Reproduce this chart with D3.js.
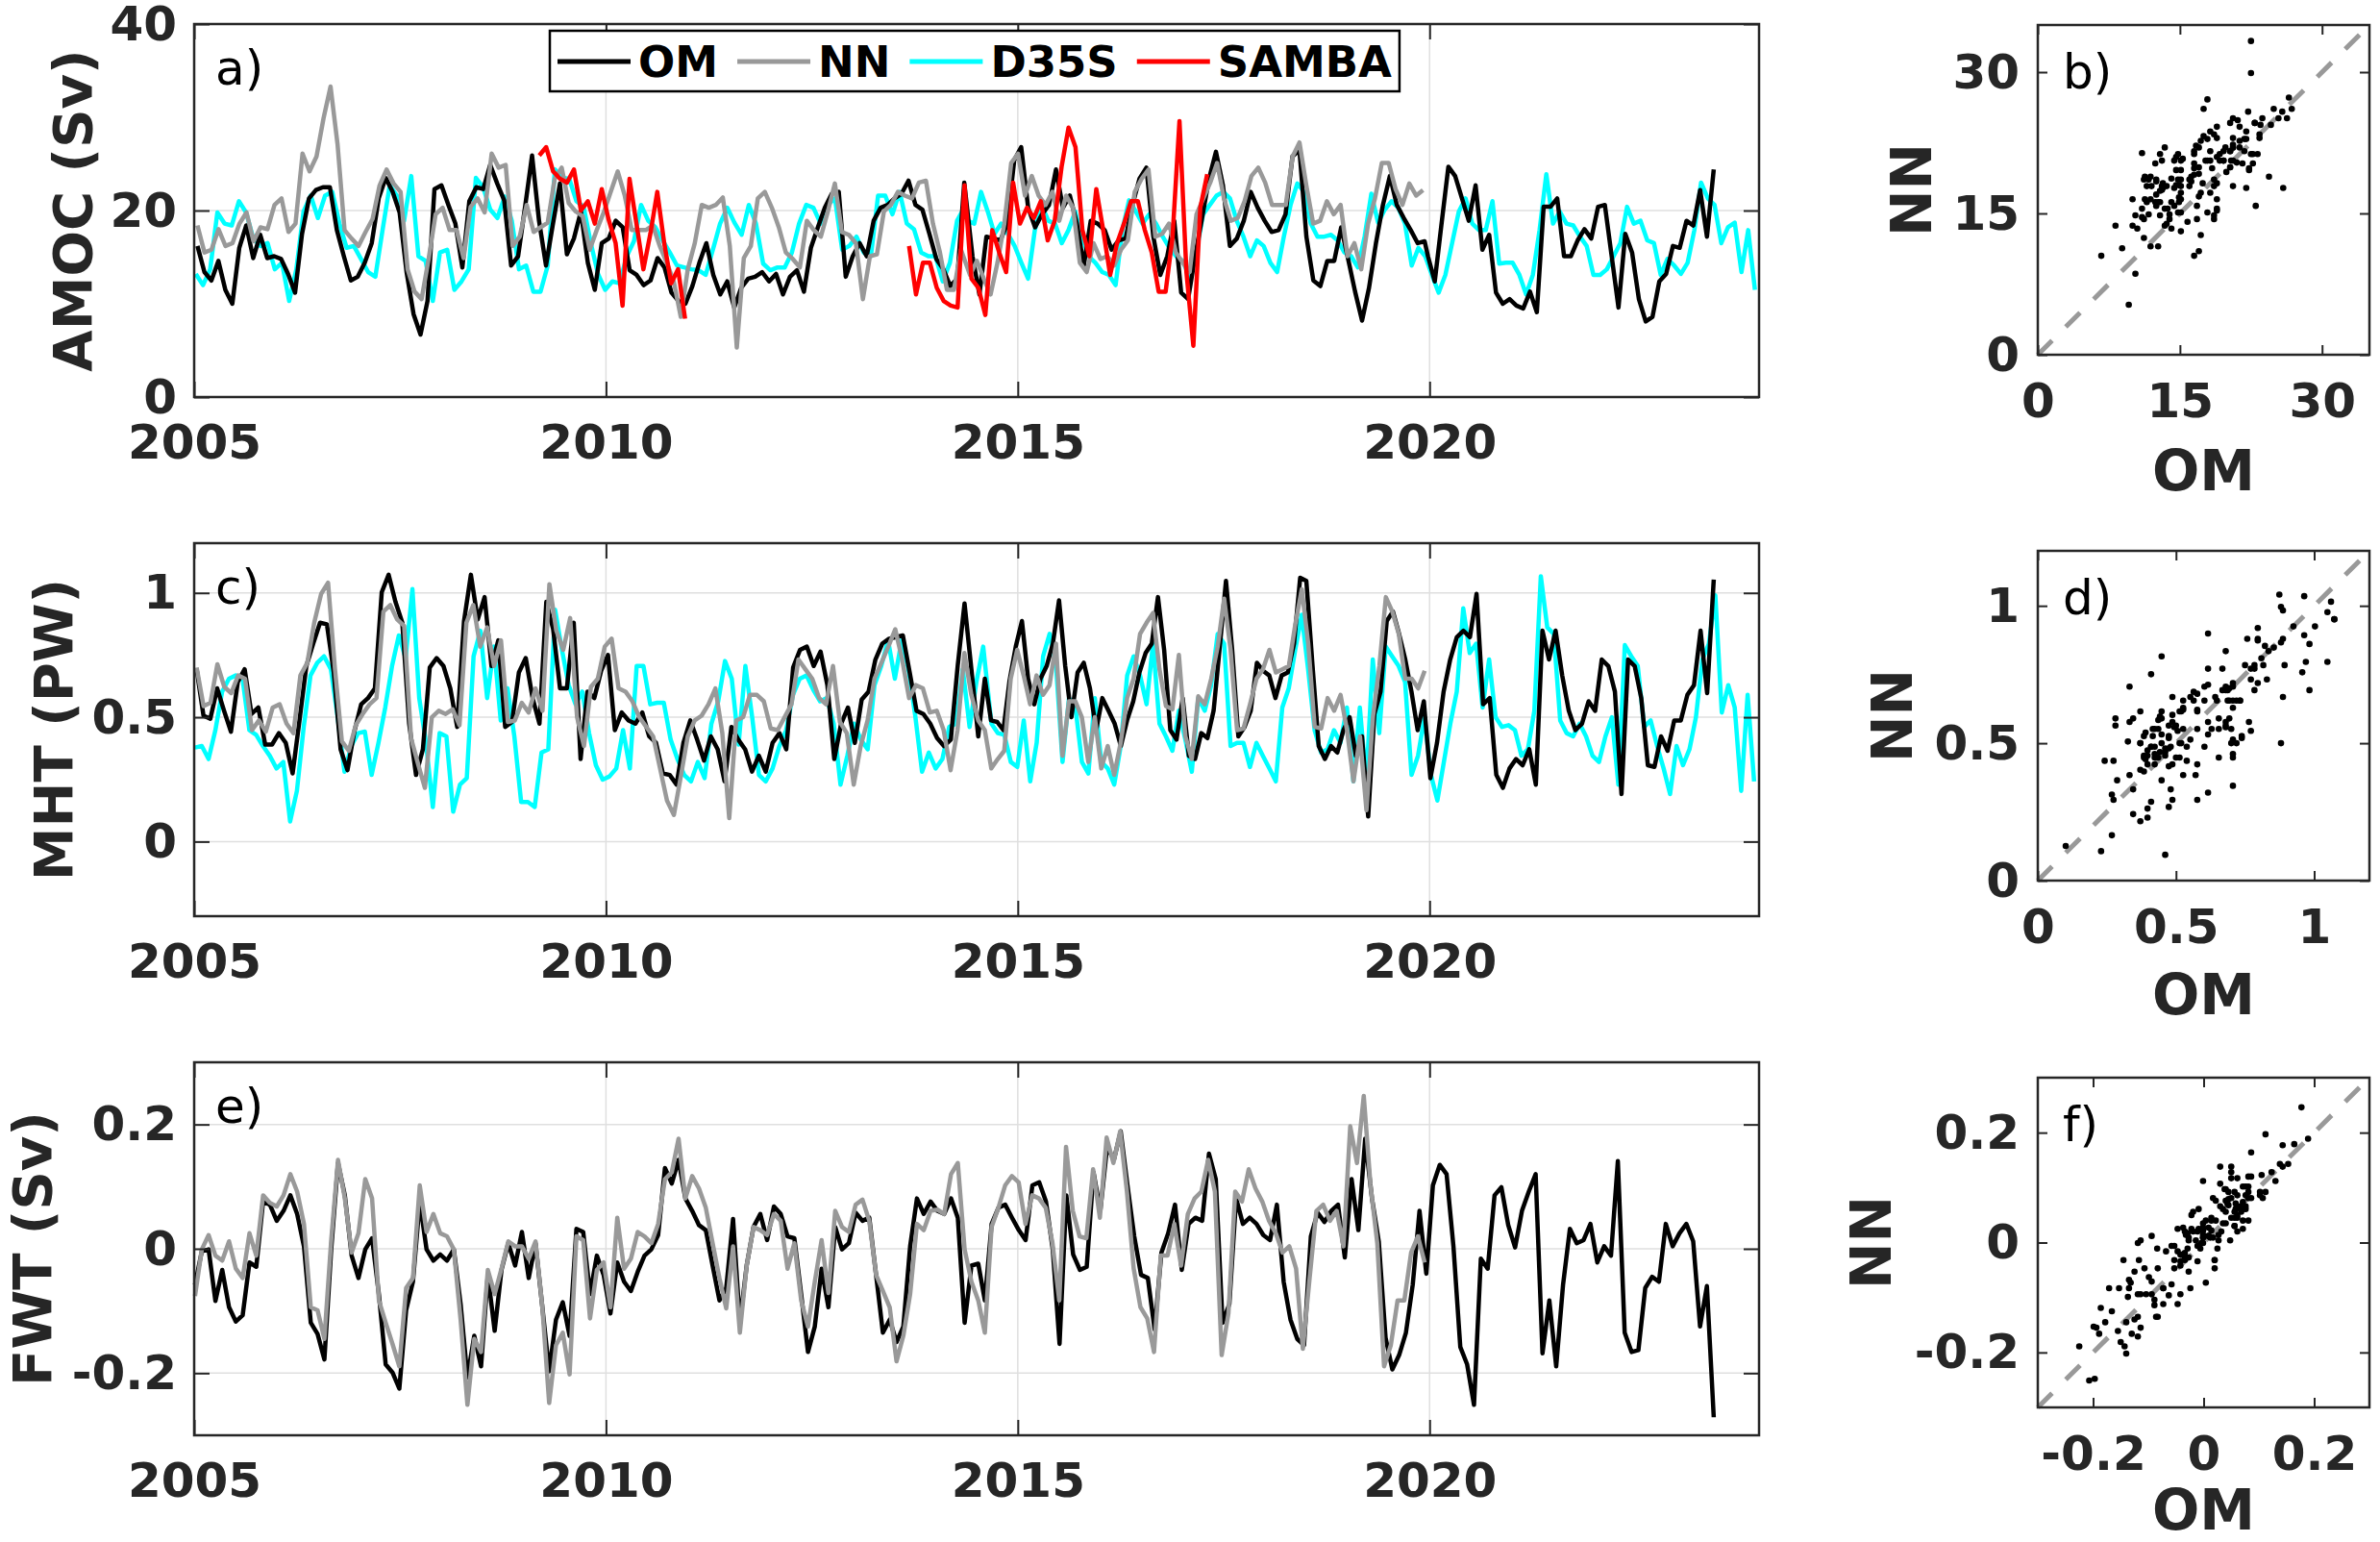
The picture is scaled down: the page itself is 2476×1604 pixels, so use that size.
<!DOCTYPE html>
<html>
<head>
<meta charset="utf-8">
<script src="https://cdn.jsdelivr.net/npm/d3@7"></script>
<style>
  body { margin: 0; background: #fff; }
</style>
</head>
<body>
<div id="chart"></div>
<script>
// Monthly transports: AMOC (Sv), MHT (PW), FWT (Sv)

// ---- a) AMOC ----
const OM_A = [
  16.2,13.4,12.5,14.6,11.5,10.0,16.0,18.4,14.9,17.4,14.9,15.1,14.8,13.2,11.2,17.5,21.3,22.2,22.5,22.5,
  17.9,15.1,12.5,12.9,14.4,16.5,21.3,23.5,22.0,19.8,13.4,8.9,6.7,10.3,22.3,22.7,20.6,18.6,13.9,21.0,
  22.5,22.3,24.9,22.9,21.1,14.1,15.1,20.4,25.9,18.9,14.1,18.6,22.9,15.3,17.0,19.9,14.4,11.5,16.5,17.0,
  18.9,18.2,13.6,13.1,12.0,12.5,14.9,13.9,11.2,10.3,10.0,11.9,14.4,16.5,13.1,11.0,12.4,9.6,11.7,12.7,
  12.9,13.4,12.4,13.2,11.0,12.9,13.6,11.3,16.0,18.2,20.3,21.8,22.0,12.9,15.1,16.5,15.1,18.9,20.3,20.6,
  21.3,21.8,23.2,20.6,20.1,17.5,14.8,13.7,11.9,12.7,23.0,
  15.1,11.0,17.2,17.0,16.8,18.6,25.4,26.8,20.3,18.2,19.6,20.6,24.4,20.3,21.6,18.6,14.1,18.9,18.6,17.9,
  15.8,16.8,17.0,20.6,23.4,24.6,17.2,13.1,15.1,18.9,11.2,10.5,15.1,19.2,23.4,26.3,22.7,16.2,17.0,18.9,
  22.0,20.3,18.9,17.7,17.9,19.6,25.8,26.5,17.2,12.5,11.9,14.6,14.6,18.2,14.8,11.3,8.2,11.7,16.5,20.6,
  23.7,20.6,19.2,17.9,16.5,16.7,15.1,12.4,18.6,24.7,23.7,21.3,18.9,22.7,15.8,17.4,11.2,10.0,10.5,9.8,
  9.5,11.3,9.1,20.4,20.4,21.3,15.1,15.1,16.8,18.0,17.0,20.4,20.6,15.1,9.6,17.5,15.5,10.5,8.1,8.6,
  12.4,13.2,16.2,16.0,18.9,18.4,22.2,17.2,24.4
];
const NN_A = [
  18.4,15.5,15.8,18.0,16.2,16.5,18.6,19.8,16.7,18.2,18.0,20.6,21.3,17.7,18.6,26.1,24.2,25.8,29.9,33.3,
  27.1,17.9,17.0,16.2,17.7,19.1,22.7,24.4,22.9,22.0,13.7,11.3,10.5,14.8,19.6,20.3,17.9,17.9,14.9,20.4,
  21.3,19.8,26.1,24.6,24.9,16.2,17.2,20.6,17.7,18.2,18.7,23.4,24.6,20.8,19.9,19.4,15.8,17.9,19.8,22.0,
  24.2,21.6,17.9,17.9,17.9,18.4,16.2,14.4,12.4,8.6,13.7,16.5,20.6,20.3,20.6,21.4,16.2,5.3,14.9,16.2,
  21.3,22.0,20.3,18.2,15.5,14.8,13.9,18.9,17.9,17.2,19.9,22.9,17.7,17.4,16.5,10.5,15.1,15.3,19.9,20.6,
  22.0,21.6,21.3,23.0,23.2,18.6,15.5,11.5,11.5,15.8,
  13.1,14.6,12.7,11.0,14.4,18.6,25.1,26.1,21.6,23.7,21.6,20.6,22.0,18.9,21.6,20.3,14.4,13.4,16.5,14.8,
  15.1,14.1,15.8,16.8,22.0,23.4,24.4,17.2,17.5,18.6,15.5,14.4,13.4,19.6,21.3,23.0,25.1,21.3,18.9,19.2,
  21.0,23.7,24.6,23.0,20.6,20.6,20.6,25.8,27.3,22.7,18.6,18.9,21.0,19.6,20.6,15.1,16.5,13.7,18.6,21.3,
  25.1,25.1,22.3,20.6,22.9,21.6,22.2
];
const D35S_A = [
  13.2,12.0,13.7,19.8,18.6,18.4,21.0,19.8,17.0,16.2,16.5,13.7,14.4,10.3,13.7,19.9,21.6,19.2,21.6,22.0,
  18.6,16.0,16.2,14.8,13.4,12.9,17.9,22.7,21.6,18.9,23.7,15.1,14.6,10.3,15.5,15.8,11.5,12.4,13.7,23.5,
  22.5,20.1,19.2,21.5,18.9,13.7,14.1,11.3,11.3,14.1,24.4,23.5,23.4,21.0,20.4,16.5,13.2,11.5,12.4,12.2,
  15.1,16.7,20.6,18.9,18.2,16.8,15.5,14.1,13.9,13.7,13.6,13.1,15.8,18.6,20.3,18.7,17.4,20.6,18.6,14.3,
  13.6,13.9,13.9,15.5,18.6,20.6,20.3,18.6,20.6,21.3,15.8,16.2,17.2,15.5,15.1,21.6,21.6,19.6,22.0,18.6,
  18.0,15.5,15.1,15.1,12.4,14.4,18.9,20.3,
  18.9,18.6,22.0,19.9,17.5,18.6,17.5,16.2,14.4,12.7,17.9,20.6,18.9,18.6,16.5,17.9,19.9,17.2,15.1,14.4,
  13.4,13.1,12.0,17.9,21.1,19.9,18.6,19.6,18.6,17.2,16.0,15.1,14.6,12.7,15.5,19.6,20.6,21.6,22.0,21.3,
  18.9,17.2,15.1,16.8,16.2,14.4,13.4,17.2,20.6,22.9,22.0,18.6,17.2,17.2,17.4,16.8,15.5,15.1,13.9,17.2,
  21.8,18.7,20.1,21.0,20.3,18.6,14.1,16.0,15.1,13.1,11.2,13.1,16.5,19.9,21.3,18.6,17.9,17.9,21.0,14.3,
  14.4,14.4,13.1,11.0,13.1,17.9,23.9,18.6,19.9,18.6,18.4,17.2,16.2,13.1,13.1,13.7,15.1,16.5,20.4,18.6,
  18.9,16.8,16.5,13.1,14.8,14.1,13.2,14.4,17.9,23.0,21.3,20.6,16.5,18.2,18.7,13.4,17.9,11.5
];
const SAMBA_A1 = [
  25.9,26.8,24.2,23.4,23.0,24.4,20.0,21.0,18.6,22.3,19.0,16.5,9.8,23.4,18.6,13.7,17.5,22.0,16.5,12.2,
  13.7,8.4
];
const SAMBA_A2 = [
  16.2,11.0,14.4,14.4,11.7,10.3,9.8,9.6,22.7,12.7,11.7,8.8,17.9,15.5,13.4,23.0,18.6,20.3,19.2,21.0,
  16.8,18.9,24.7,28.9,26.8,17.9,15.1,22.3,17.9,13.1,16.5,18.6,21.0,21.0,17.9,15.5,11.3,11.3,17.2,29.6,
  13.4,5.5,20.3,23.9
];

// ---- c) MHT ----
const OM_C = [
  0.693,0.506,0.494,0.616,0.526,0.442,0.642,0.693,0.513,0.539,0.390,0.390,0.436,0.397,0.274,0.487,0.706,0.796,0.880,0.874,
  0.680,0.371,0.287,0.442,0.552,0.577,0.616,1.003,1.073,0.964,0.880,0.474,0.268,0.371,0.700,0.738,0.706,0.616,0.461,0.887,
  1.073,0.893,0.983,0.706,0.809,0.461,0.481,0.680,0.738,0.577,0.474,0.964,0.854,0.616,0.616,0.880,0.332,0.603,0.577,0.687,
  0.750,0.448,0.519,0.487,0.474,0.519,0.423,0.397,0.274,0.268,0.229,0.397,0.487,0.410,0.326,0.423,0.371,0.242,0.461,0.410,
  0.371,0.281,0.345,0.281,0.397,0.436,0.371,0.700,0.771,0.784,0.706,0.764,0.629,0.332,0.474,0.539,0.397,0.571,0.603,0.732,
  0.796,0.816,0.822,0.829,0.680,0.526,0.513,0.474,0.416,0.384,0.410,0.706,0.957,0.693,0.423,
  0.655,0.487,0.481,0.448,0.648,0.784,0.887,0.655,0.552,0.655,0.706,0.796,0.970,0.706,0.500,0.680,0.719,0.616,0.448,0.577,
  0.526,0.474,0.384,0.487,0.564,0.680,0.758,0.796,0.983,0.771,0.448,0.410,0.577,0.345,0.332,0.436,0.416,0.526,0.784,1.048,
  0.771,0.423,0.461,0.526,0.719,0.687,0.668,0.577,0.668,0.680,0.796,1.061,1.048,0.706,0.384,0.332,0.384,0.358,0.448,0.500,
  0.345,0.423,0.101,0.513,0.603,0.887,0.925,0.835,0.732,0.603,0.448,0.564,0.255,0.397,0.603,0.732,0.822,0.848,0.822,0.996,
  0.552,0.577,0.268,0.216,0.294,0.332,0.307,0.371,0.229,0.848,0.732,0.848,0.668,0.526,0.448,0.474,0.564,0.526,0.732,0.706,
  0.603,0.191,0.732,0.706,0.577,0.307,0.300,0.423,0.365,0.487,0.487,0.590,0.629,0.848,0.597,1.054
];
const NN_C = [
  0.700,0.545,0.558,0.713,0.622,0.597,0.668,0.655,0.448,0.487,0.442,0.539,0.552,0.474,0.436,0.668,0.719,0.880,0.996,1.041,
  0.693,0.403,0.365,0.468,0.513,0.552,0.577,0.925,0.951,0.893,0.867,0.416,0.313,0.216,0.500,0.526,0.513,0.532,0.468,0.880,
  0.951,0.784,0.861,0.706,0.809,0.481,0.487,0.558,0.519,0.616,0.526,1.035,0.848,0.771,0.899,0.500,0.384,0.622,0.655,0.784,
  0.816,0.616,0.603,0.564,0.500,0.461,0.423,0.294,0.165,0.107,0.262,0.423,0.487,0.506,0.552,0.616,0.436,0.094,0.487,0.500,
  0.590,0.590,0.564,0.455,0.448,0.500,0.552,0.732,0.693,0.655,0.577,0.552,0.706,0.481,0.436,0.229,0.384,0.487,0.655,0.719,
  0.784,0.854,0.732,0.577,0.629,0.616,0.519,0.526,0.448,0.287,0.448,0.758,0.590,0.487,
  0.448,0.294,0.332,0.365,0.655,0.771,0.668,0.552,0.668,0.590,0.629,0.796,0.345,0.564,0.564,0.500,0.320,0.500,0.294,0.384,
  0.268,0.397,0.577,0.655,0.835,0.880,0.919,0.693,0.545,0.532,0.751,0.423,0.332,0.584,0.552,0.655,0.784,0.977,0.771,0.448,
  0.455,0.552,0.655,0.693,0.771,0.680,0.693,0.706,0.874,1.015,0.796,0.461,0.455,0.577,0.526,0.590,0.448,0.242,0.423,0.126,
  0.500,0.706,0.983,0.925,0.835,0.655,0.655,0.616,0.687
];
const D35S_C = [
  0.378,0.384,0.332,0.448,0.603,0.655,0.668,0.655,0.448,0.429,0.384,0.345,0.294,0.320,0.081,0.204,0.461,0.668,0.719,0.745,
  0.693,0.500,0.281,0.384,0.436,0.442,0.268,0.397,0.539,0.706,0.829,0.738,1.015,0.577,0.397,0.139,0.436,0.423,0.120,0.229,
  0.255,0.745,0.848,0.577,0.784,0.487,0.616,0.423,0.159,0.159,0.139,0.358,0.371,0.932,0.771,0.629,0.552,0.603,0.436,0.307,
  0.249,0.262,0.294,0.448,0.294,0.706,0.706,0.552,0.558,0.558,0.410,0.332,0.268,0.242,0.320,0.255,0.474,0.564,0.726,0.655,
  0.390,0.706,0.500,0.268,0.242,0.294,0.384,0.448,0.590,0.655,0.668,0.610,0.564,0.577,0.474,0.229,0.345,0.474,0.410,0.371,
  0.629,0.706,0.809,0.655,0.809,0.693,0.506,0.281,0.358,0.294,0.332,0.461,0.474,0.693,0.461,0.642,0.784,
  0.474,0.436,0.429,0.320,0.300,0.487,0.242,0.397,0.745,0.835,0.706,0.320,0.577,0.539,0.320,0.274,0.577,0.320,0.294,0.229,
  0.384,0.668,0.745,0.668,0.552,0.796,0.474,0.423,0.365,0.526,0.410,0.281,0.577,0.526,0.629,0.835,0.796,0.384,0.397,0.397,
  0.300,0.397,0.345,0.294,0.242,0.539,0.616,0.771,0.912,0.693,0.448,0.358,0.371,0.448,0.397,0.539,0.242,0.539,0.242,0.732,
  0.436,0.784,0.745,0.706,0.642,0.268,0.345,0.500,0.268,0.165,0.320,0.474,0.603,0.938,0.758,0.796,0.539,0.732,0.500,0.461,
  0.468,0.448,0.345,0.371,0.526,1.067,0.861,0.835,0.487,0.436,0.423,0.474,0.423,0.345,0.320,0.423,0.500,0.229,0.790,0.745,
  0.706,0.461,0.487,0.384,0.294,0.191,0.384,0.307,0.371,0.500,0.732,0.796,0.990,0.519,0.629,0.539,0.204,0.590,0.242
];

// ---- e) FWT ----
const OM_E = [
  -0.058,-0.004,-0.001,-0.084,-0.034,-0.094,-0.117,-0.107,-0.022,-0.029,0.076,0.071,0.045,0.061,0.086,0.056,0.004,-0.119,-0.137,-0.178,
  -0.001,0.138,0.086,-0.011,-0.047,-0.001,0.017,-0.073,-0.186,-0.199,-0.225,-0.099,-0.053,0.076,-0.001,-0.019,-0.009,-0.019,-0.001,-0.089,
  -0.207,-0.140,-0.189,-0.042,-0.132,-0.034,0.009,-0.027,0.027,-0.047,0.009,-0.094,-0.197,-0.114,-0.086,-0.140,0.032,0.027,-0.073,-0.011,
  -0.042,-0.104,-0.022,-0.053,-0.068,-0.037,-0.011,-0.001,0.022,0.130,0.105,0.143,0.081,0.061,0.038,0.030,-0.027,-0.083,-0.063,0.048,
  -0.119,-0.027,0.035,0.056,0.014,0.068,0.056,0.020,0.017,-0.073,-0.166,-0.125,-0.032,-0.094,0.035,-0.001,0.009,0.058,0.045,0.050,
  -0.042,-0.135,-0.114,-0.150,-0.125,0.004,0.081,0.056,0.076,0.061,0.056,0.081,0.050,-0.119,-0.027,-0.024,
  -0.083,0.040,0.066,0.071,0.050,0.030,0.014,0.102,0.107,0.076,-0.001,-0.153,0.086,-0.009,-0.034,-0.029,0.123,0.061,0.164,0.143,
  0.189,0.102,0.020,-0.042,-0.047,-0.130,-0.006,0.025,0.071,-0.034,0.040,0.050,0.045,0.153,0.112,-0.119,-0.089,0.081,0.040,0.050,
  0.040,0.022,0.014,0.071,-0.053,-0.114,-0.145,-0.155,0.020,0.058,0.043,0.061,0.071,-0.014,0.112,0.030,0.177,0.081,0.012,-0.143,
  -0.194,-0.171,-0.135,-0.058,0.061,-0.040,0.102,0.135,0.120,0.004,-0.158,-0.186,-0.251,-0.016,-0.032,0.086,0.099,0.038,0.002,0.061,
  0.092,0.120,-0.168,-0.083,-0.189,-0.058,0.032,0.009,0.014,0.040,-0.022,0.004,-0.011,0.141,-0.135,-0.166,-0.163,-0.063,-0.045,-0.053,
  0.040,0.004,0.025,0.040,0.012,-0.125,-0.060,-0.271
];
const NN_E = [
  -0.076,-0.001,0.022,-0.011,-0.019,0.012,-0.032,-0.047,0.025,-0.011,0.086,0.074,0.068,0.086,0.120,0.092,0.040,-0.094,-0.099,-0.145,
  0.014,0.143,0.081,-0.006,0.025,0.112,0.081,-0.083,-0.119,-0.153,-0.189,-0.063,-0.047,0.102,0.027,0.056,0.025,0.020,-0.001,-0.114,
  -0.251,-0.145,-0.166,-0.034,-0.073,-0.032,0.012,0.004,0.004,-0.016,0.012,-0.094,-0.248,-0.155,-0.135,-0.202,0.020,0.014,-0.112,-0.034,
  -0.022,-0.094,0.050,-0.032,-0.016,0.027,0.020,0.009,0.040,0.112,0.123,0.177,0.081,0.117,0.097,0.066,0.009,-0.047,-0.096,0.004,
  -0.135,-0.027,0.035,0.030,0.022,0.056,0.045,-0.032,0.009,-0.083,-0.125,-0.053,0.014,-0.071,0.061,0.035,0.027,0.071,0.079,0.045,
  -0.042,-0.068,-0.094,-0.181,-0.140,-0.073,0.040,0.030,0.061,0.063,0.056,0.120,0.138,-0.001,-0.053,-0.083,
  -0.135,0.035,0.066,0.102,0.117,0.107,0.040,0.086,0.081,0.066,0.009,-0.083,0.164,0.061,0.020,0.017,0.128,0.050,0.179,0.138,
  0.189,0.092,-0.032,-0.094,-0.112,-0.166,-0.011,-0.011,0.040,-0.027,0.056,0.081,0.092,0.143,0.092,-0.171,-0.104,0.092,0.076,0.128,
  0.097,0.076,0.045,0.025,-0.006,0.004,-0.032,-0.161,-0.047,0.061,0.071,0.045,0.061,0.004,0.197,0.138,0.246,0.102,0.009,-0.189,
  -0.155,-0.083,-0.083,-0.006,0.020,-0.022
];

// years covered, piece by piece as the record was read: [start, end, count];
// the last piece takes the remaining values
const SPAN = {
  OM_A: [[2005.04, 2014.35, 111], [2014.45, 2019.94, 66], [2019.98, 2023.45]],
  NN_A: [[2005.04, 2014.31, 110], [2014.42, 2019.92]],
  D35S_A: [[2005.02, 2014.35, 108], [2014.39, 2023.95]],
  SAMBA_A1: [[2009.19, 2010.96]],
  SAMBA_A2: [[2013.68, 2017.30]],
  OM_C: [[2005.03, 2014.52, 115], [2014.60, 2019.93, 72], [2020.01, 2023.45]],
  NN_C: [[2005.03, 2014.52, 114], [2014.60, 2019.94]],
  D35S_C: [[2005.01, 2014.58, 117], [2014.68, 2023.94]],
  OM_E: [[2005.01, 2014.52, 116], [2014.60, 2019.96, 66], [2020.04, 2023.45]],
  NN_E: [[2005.01, 2014.52, 116], [2014.60, 2019.94]]
};

const YEAR_TICKS = [2005, 2010, 2015, 2020];
const LEGEND = ["OM", "NN", "D35S", "SAMBA"];
const COLORS = { OM: "#000000", NN: "#999999", D35S: "#00ffff", SAMBA: "#ff0000" };

const FONT = "DejaVu Sans";
const AX = "#262626";

function dated(vals, pieces) {
  const out = [];
  let i = 0;
  pieces.forEach(([t0, t1, n], k) => {
    const cnt = k === pieces.length - 1 ? vals.length - i : n;
    for (let j = 0; j < cnt; j++, i++) {
      out.push({ t: t0 + (t1 - t0) * j / Math.max(cnt - 1, 1), v: vals[i] });
    }
  });
  return out;
}

const svg = d3.select("#chart").append("svg")
  .attr("width", 2476).attr("height", 1604)
  .style("display", "block").style("background", "#fff");

function styleAxis(ax, withText) {
  ax.select(".domain").remove();
  ax.selectAll(".tick line").attr("stroke", AX).attr("stroke-width", 2);
  ax.selectAll("text")
    .attr("font-family", FONT).attr("font-weight", "bold")
    .attr("font-size", 50).attr("fill", AX)
    .style("display", withText ? null : "none");
}

/* ── time-series panels ── */
function timePanel(cfg) {
  const left = 202, right = 1830, h = 388, w = right - left;
  const g = svg.append("g").attr("transform", `translate(${left},${cfg.top})`);
  const x = d3.scaleLinear().domain([2005, 2024]).range([0, w]);
  const y = d3.scaleLinear().domain(cfg.yDomain).range([h, 0]);

  // grid
  g.append("g").selectAll("line").data(YEAR_TICKS.slice(1)).join("line")
    .attr("x1", d => x(d)).attr("x2", d => x(d)).attr("y1", 0).attr("y2", h)
    .attr("stroke", "#dfdfdf").attr("stroke-width", 1.5);
  g.append("g").selectAll("line").data(cfg.yTicks).join("line")
    .attr("y1", d => y(d)).attr("y2", d => y(d)).attr("x1", 0).attr("x2", w)
    .attr("stroke", "#dfdfdf").attr("stroke-width", 1.5);

  const line = d3.line().x(d => x(d.t)).y(d => y(d.v));
  cfg.series.forEach(s => {
    g.append("path").datum(s.data)
      .attr("fill", "none").attr("stroke", s.color)
      .attr("stroke-width", 4.5).attr("stroke-linejoin", "round")
      .attr("d", line);
  });

  g.append("g").attr("transform", `translate(0,${h})`)
    .call(d3.axisBottom(x).tickValues(YEAR_TICKS).tickFormat(d3.format("d"))
      .tickSizeInner(-16).tickSizeOuter(0).tickPadding(28))
    .call(ax => styleAxis(ax, true));
  g.append("g")
    .call(d3.axisTop(x).tickValues(YEAR_TICKS).tickSizeInner(-16).tickSizeOuter(0))
    .call(ax => styleAxis(ax, false));
  g.append("g")
    .call(d3.axisLeft(y).tickValues(cfg.yTicks).tickFormat(d => String(d))
      .tickSizeInner(-16).tickSizeOuter(0).tickPadding(18))
    .call(ax => styleAxis(ax, true));
  g.append("g").attr("transform", `translate(${w},0)`)
    .call(d3.axisRight(y).tickValues(cfg.yTicks).tickSizeInner(-16).tickSizeOuter(0))
    .call(ax => styleAxis(ax, false));

  g.append("rect").attr("width", w).attr("height", h)
    .attr("fill", "none").attr("stroke", AX).attr("stroke-width", 2.5);

  g.append("text").attr("x", 22).attr("y", 63)
    .attr("font-family", FONT).attr("font-size", 50).attr("fill", "#000")
    .text(cfg.letter);

  svg.append("text")
    .attr("transform", `translate(${cfg.labelX},${cfg.top + h / 2}) rotate(-90)`)
    .attr("text-anchor", "middle").attr("dy", "0.36em")
    .attr("font-family", FONT).attr("font-weight", "bold").attr("font-size", 56)
    .attr("fill", AX).text(cfg.label);
}

/* ── scatter panels (NN against OM, same months) ── */
function scatterPanel(cfg) {
  const left = 2120, right = 2465, size = 343, w = right - left;
  const g = svg.append("g").attr("transform", `translate(${left},${cfg.top})`);
  const x = d3.scaleLinear().domain(cfg.domain).range([0, w]);
  const y = d3.scaleLinear().domain(cfg.domain).range([size, 0]);

  const bis = d3.bisector(d => d.t);
  const pairs = cfg.nn.map(p => [cfg.om[bis.center(cfg.om, p.t)].v, p.v]);

  g.append("line")
    .attr("x1", x(cfg.domain[0])).attr("y1", y(cfg.domain[0]))
    .attr("x2", x(cfg.domain[1])).attr("y2", y(cfg.domain[1]))
    .attr("stroke", "#999999").attr("stroke-width", 5)
    .attr("stroke-dasharray", "21 20");

  g.append("g").selectAll("circle").data(pairs).join("circle")
    .attr("cx", d => x(d[0])).attr("cy", d => y(d[1])).attr("r", 3.3)
    .attr("fill", "#000");

  g.append("g").attr("transform", `translate(0,${size})`)
    .call(d3.axisBottom(x).tickValues(cfg.ticks).tickFormat(d => String(d))
      .tickSizeInner(-10).tickSizeOuter(0).tickPadding(29))
    .call(ax => styleAxis(ax, true));
  g.append("g")
    .call(d3.axisTop(x).tickValues(cfg.ticks).tickSizeInner(-10).tickSizeOuter(0))
    .call(ax => styleAxis(ax, false));
  g.append("g")
    .call(d3.axisLeft(y).tickValues(cfg.ticks).tickFormat(d => String(d))
      .tickSizeInner(-10).tickSizeOuter(0).tickPadding(19))
    .call(ax => styleAxis(ax, true));
  g.append("g").attr("transform", `translate(${w},0)`)
    .call(d3.axisRight(y).tickValues(cfg.ticks).tickSizeInner(-10).tickSizeOuter(0))
    .call(ax => styleAxis(ax, false));

  g.append("rect").attr("width", w).attr("height", size)
    .attr("fill", "none").attr("stroke", AX).attr("stroke-width", 2.5);

  g.append("text").attr("x", 26).attr("y", 66)
    .attr("font-family", FONT).attr("font-size", 50).attr("fill", "#000")
    .text(cfg.letter);

  svg.append("text")
    .attr("transform", `translate(${cfg.nnX},${cfg.top + size / 2}) rotate(-90)`)
    .attr("text-anchor", "middle").attr("dy", "0.36em")
    .attr("font-family", FONT).attr("font-weight", "bold").attr("font-size", 58)
    .attr("fill", AX).text("NN");
  svg.append("text")
    .attr("x", left + w / 2).attr("y", cfg.top + cfg.omDy)
    .attr("text-anchor", "middle")
    .attr("font-family", FONT).attr("font-weight", "bold").attr("font-size", 58)
    .attr("fill", AX).text("OM");
}

/* ── build ── */
const omA = dated(OM_A, SPAN.OM_A), nnA = dated(NN_A, SPAN.NN_A);
const omC = dated(OM_C, SPAN.OM_C), nnC = dated(NN_C, SPAN.NN_C);
const omE = dated(OM_E, SPAN.OM_E), nnE = dated(NN_E, SPAN.NN_E);

timePanel({
  top: 25, yDomain: [0, 40], yTicks: [0, 20, 40], letter: "a)",
  label: "AMOC (Sv)", labelX: 75,
  series: [
    { data: dated(D35S_A, SPAN.D35S_A), color: COLORS.D35S },
    { data: omA, color: COLORS.OM },
    { data: nnA, color: COLORS.NN },
    { data: dated(SAMBA_A1, SPAN.SAMBA_A1), color: COLORS.SAMBA },
    { data: dated(SAMBA_A2, SPAN.SAMBA_A2), color: COLORS.SAMBA }
  ]
});
timePanel({
  top: 565, yDomain: [-0.3, 1.2], yTicks: [0, 0.5, 1], letter: "c)",
  label: "MHT (PW)", labelX: 55,
  series: [
    { data: dated(D35S_C, SPAN.D35S_C), color: COLORS.D35S },
    { data: omC, color: COLORS.OM },
    { data: nnC, color: COLORS.NN }
  ]
});
timePanel({
  top: 1105, yDomain: [-0.3, 0.3], yTicks: [-0.2, 0, 0.2], letter: "e)",
  label: "FWT (Sv)", labelX: 33,
  series: [
    { data: omE, color: COLORS.OM },
    { data: nnE, color: COLORS.NN }
  ]
});

scatterPanel({ top: 26, domain: [0, 35], ticks: [0, 15, 30], letter: "b)",
  om: omA, nn: nnA, nnX: 1988, omDy: 484 });
scatterPanel({ top: 573, domain: [0, 1.2], ticks: [0, 0.5, 1], letter: "d)",
  om: omC, nn: nnC, nnX: 1968, omDy: 482 });
scatterPanel({ top: 1121, domain: [-0.3, 0.3], ticks: [-0.2, 0, 0.2], letter: "f)",
  om: omE, nn: nnE, nnX: 1946, omDy: 470 });

/* ── legend (panel a) ── */
const leg = svg.append("g");
const legBox = leg.append("rect").attr("y", 32).attr("height", 63)
  .attr("fill", "#fff").attr("stroke", "#000").attr("stroke-width", 2.5);
let lx = 580;
LEGEND.forEach(name => {
  leg.append("line").attr("x1", lx).attr("x2", lx + 76).attr("y1", 64).attr("y2", 64)
    .attr("stroke", COLORS[name]).attr("stroke-width", 5);
  const t = leg.append("text").attr("x", lx + 84).attr("y", 80)
    .attr("font-family", FONT).attr("font-weight", "bold").attr("font-size", 45)
    .attr("fill", "#000").text(name);
  lx += 84 + t.node().getComputedTextLength() + 20;
});
legBox.attr("x", 572).attr("width", lx - 20 + 8 - 572);
</script>
</body>
</html>
